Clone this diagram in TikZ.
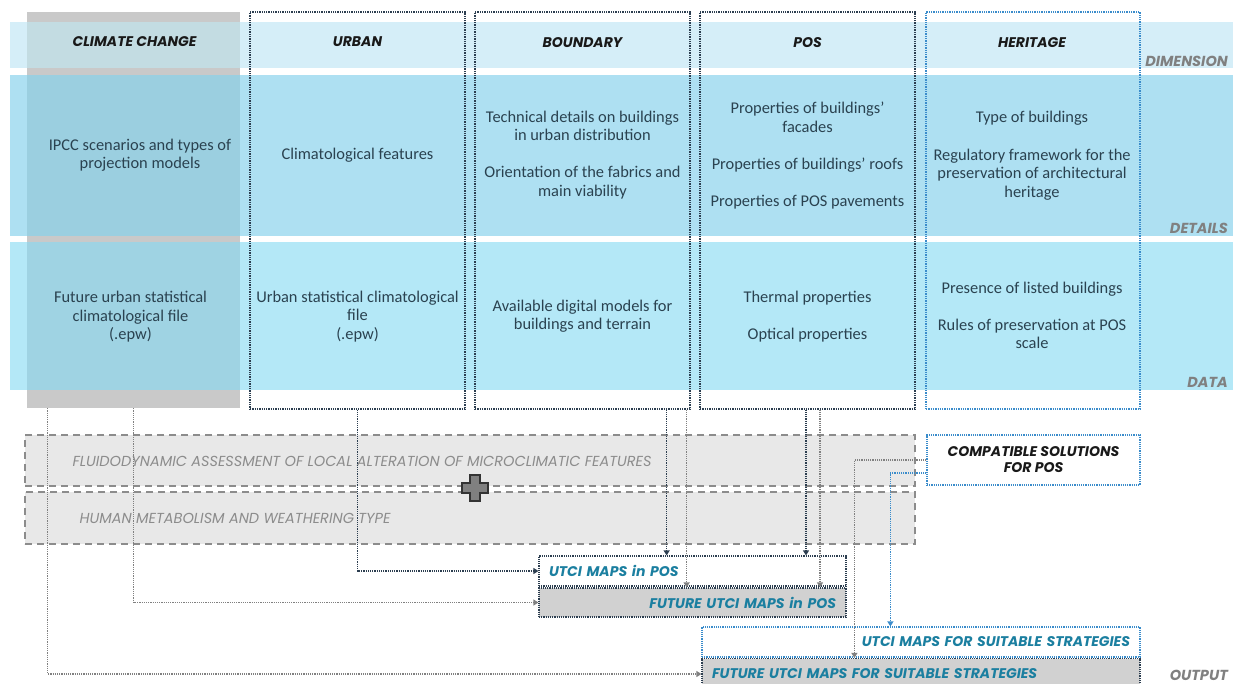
\documentclass[tikz,border=0pt]{standalone}
\usepackage{fontspec}
\setmainfont{Carlito}
\newfontfamily\headfont{Poppins}
\usetikzlibrary{arrows.meta}
\definecolor{navy}{HTML}{2C3E50}
\definecolor{slate}{HTML}{2A4250}
\definecolor{teal}{HTML}{1B7FA0}
\definecolor{skyblue}{HTML}{3A8CCB}
\definecolor{bandtop}{HTML}{D5EEF8}
\definecolor{banddet}{HTML}{AEE0F2}
\definecolor{banddat}{HTML}{B4E8F7}
\definecolor{ccgray}{HTML}{C9C9C9}
\definecolor{cctop}{HTML}{C3DCE2}
\definecolor{ccdet}{HTML}{9BCFE0}
\definecolor{ccdat}{HTML}{9FD3E3}
\tikzstyle{column} = [draw=navy, line width=1.3pt, dash pattern=on 1.3pt off 1pt,
    minimum height=397pt, minimum width=215pt]
\tikzstyle{heading} = [font=\headfont\bfseries\itshape\fontsize{14}{16}\selectfont, text=black!90]
\tikzstyle{bodytext} = [align=center, font=\fontsize{16.4}{18.5}\selectfont, text=slate]
\tikzstyle{sidelabel} = [anchor=east, inner sep=1pt, font=\headfont\bfseries\itshape\fontsize{14.5}{16}\selectfont, text=black!50]
\tikzstyle{phase} = [draw=black!45, fill=black!9, line width=1.5pt, dash pattern=on 7pt off 5pt,
    minimum width=890pt]
\tikzstyle{phasetext} = [anchor=west, font=\headfont\itshape\fontsize{14.5}{16}\selectfont, text=black!45]
\tikzstyle{output} = [line width=1.2pt, dash pattern=on 1.2pt off 1pt, inner xsep=10pt,
    font=\headfont\bfseries\itshape\fontsize{14}{16}\selectfont, text=teal]
\tikzstyle{navyconn} = [navy, line width=1.2pt, dash pattern=on 1.2pt off 1pt, ->]
\tikzstyle{grayconn} = [black!50, line width=1.2pt, dash pattern=on 1.2pt off 1pt, ->]
\tikzstyle{blueconn} = [skyblue, line width=1.2pt, dash pattern=on 1.2pt off 1pt, ->]

\begin{document}
\begin{tikzpicture}[x=1pt, y=-1pt, >={Triangle[length=5pt,width=6pt]}]
        \useasboundingbox (0,0) rectangle (1238,683);
        % We start by placing the bands and the climate column
        \node [fill=ccgray, minimum width=213pt, minimum height=396pt] (climate) at (133.5,210) {};
        \fill [bandtop] (10,22) rectangle (1233,68);
        \fill [banddet] (10,75) rectangle (1233,236);
        \fill [banddat] (10,242) rectangle (1233,390);
        \fill [cctop] (27,22) rectangle (240,68);
        \fill [ccdet] (27,75) rectangle (240,236);
        \fill [ccdat] (27,242) rectangle (240,390);

        % the dotted columns
        \node [column] (urban) at (357.5,210.5) {};
        \node [column] (boundary) at (582.5,210.5) {};
        \node [column] (pos) at (807.5,210.5) {};
        \node [column, draw=skyblue, minimum width=214pt] (heritage) at (1033,210.5) {};

        \node [heading] (cchead) at (134.5,42) {CLIMATE CHANGE};
        \node [heading] (urbhead) at (357.5,42) {URBAN};
        \node [heading] (bndhead) at (582.5,43) {BOUNDARY};
        \node [heading] (poshead) at (807.5,43) {POS};
        \node [heading] (herhead) at (1032,43) {HERITAGE};

        \node [sidelabel] (dimlabel) at (1229,61) {DIMENSION};
        \node [sidelabel] (detlabel) at (1229,228) {DETAILS};
        \node [sidelabel] (datlabel) at (1229,382) {DATA};
        \node [sidelabel] (outlabel) at (1229,675) {OUTPUT};

        \node [bodytext] (ccdettext) at (140,155) {IPCC scenarios and types of\\projection models};
        \node [bodytext] (urbdet) at (357.5,155) {Climatological features};
        \node [bodytext] (bnddet) at (582.5,155) {Technical details on buildings\\in urban distribution\\[18.5pt]
            Orientation of the fabrics and\\main viability};
        \node [bodytext] (posdet) at (807.5,155.5) {Properties of buildings’\\facades\\[18.5pt]
            Properties of buildings’ roofs\\[18.5pt]Properties of POS pavements};
        \node [bodytext] (herdet) at (1032,155.5) {Type of buildings\\[19pt]Regulatory framework for the\\
            preservation of architectural\\heritage};

        \node [bodytext] (ccdattext) at (130.5,317) {Future urban statistical\\climatological file\\(.epw)};
        \node [bodytext] (urbdat) at (357.5,316.5) {Urban statistical climatological\\file\\(.epw)};
        \node [bodytext] (bnddat) at (582.5,316) {Available digital models for\\buildings and terrain};
        \node [bodytext] (posdat) at (807.5,316.5) {Thermal properties\\[18.5pt]Optical properties};
        \node [bodytext] (herdat) at (1032,315.5) {Presence of listed buildings\\[18.5pt]
            Rules of preservation at POS\\scale};

        % assessment phases
        \node [phase, minimum height=51pt] (fluid) at (470,460.5) {};
        \node [phase, minimum height=52pt] (human) at (470,518) {};
        \node [phasetext] (fluidtext) at (69,461) {FLUIDODYNAMIC ASSESSMENT OF LOCAL ALTERATION OF MICROCLIMATIC FEATURES};
        \node [phasetext] (humantext) at (76,518) {HUMAN METABOLISM AND WEATHERING TYPE};
        \draw [draw=black!80, fill=black!50, line width=1.3pt] (470,475) -- (480,475) -- (480,483) -- (488,483)
            -- (488,493) -- (480,493) -- (480,501) -- (470,501) -- (470,493) -- (462,493) -- (462,483)
            -- (470,483) -- cycle;

        \node [output, draw=skyblue, minimum width=213pt, minimum height=50pt, text=black!90, align=center]
            (compat) at (1033.5,460) {COMPATIBLE SOLUTIONS\\FOR POS};

        % outputs
        \node [output, draw=navy, fill=white, text width=287pt, align=left, minimum height=30pt]
            (utcipos) at (692.5,571) {UTCI MAPS in POS};
        \node [output, draw=navy, fill=black!18, text width=287pt, align=right, minimum height=29pt]
            (futpos) at (692.5,602.5) {FUTURE UTCI MAPS in POS};
        \node [output, draw=skyblue, fill=white, text width=418pt, align=right, minimum height=30pt]
            (utcistrat) at (921,642) {UTCI MAPS FOR SUITABLE STRATEGIES};
        \node [output, draw=navy, fill=black!18, text width=418pt, align=left, minimum height=31pt]
            (futstrat) at (921,674) {FUTURE UTCI MAPS FOR SUITABLE STRATEGIES};

        % Once the nodes are placed, connecting them is easy.
        \coordinate (bnd1) at ([xshift=-24pt]boundary.south east);
        \coordinate (bnd2) at ([xshift=-4pt]boundary.south east);
        \coordinate (pos1) at ([xshift=-1.5pt]pos.south);
        \coordinate (pos2) at ([xshift=12.5pt]pos.south);
        \coordinate (cc1) at ([xshift=21pt]climate.south west);
        \draw [navyconn] (urban.south) |- (utcipos.west);
        \draw [grayconn] (climate.south) |- (futpos.west);
        \draw [grayconn] (cc1) |- (futstrat.west);
        \draw [navyconn] (bnd1) -- (bnd1 |- utcipos.north);
        \draw [grayconn] (bnd2) -- (bnd2 |- futpos.north);
        \draw [navyconn] (pos1) -- (pos1 |- utcipos.north);
        \draw [grayconn] (pos2) -- (pos2 |- futpos.north);
        \draw [grayconn] (compat.west) -| ([xshift=153pt]futstrat.north west);
        \draw [blueconn] ([yshift=-13pt]compat.west) -| ([xshift=189pt]utcistrat.north west);
    \end{tikzpicture}
\end{document}
